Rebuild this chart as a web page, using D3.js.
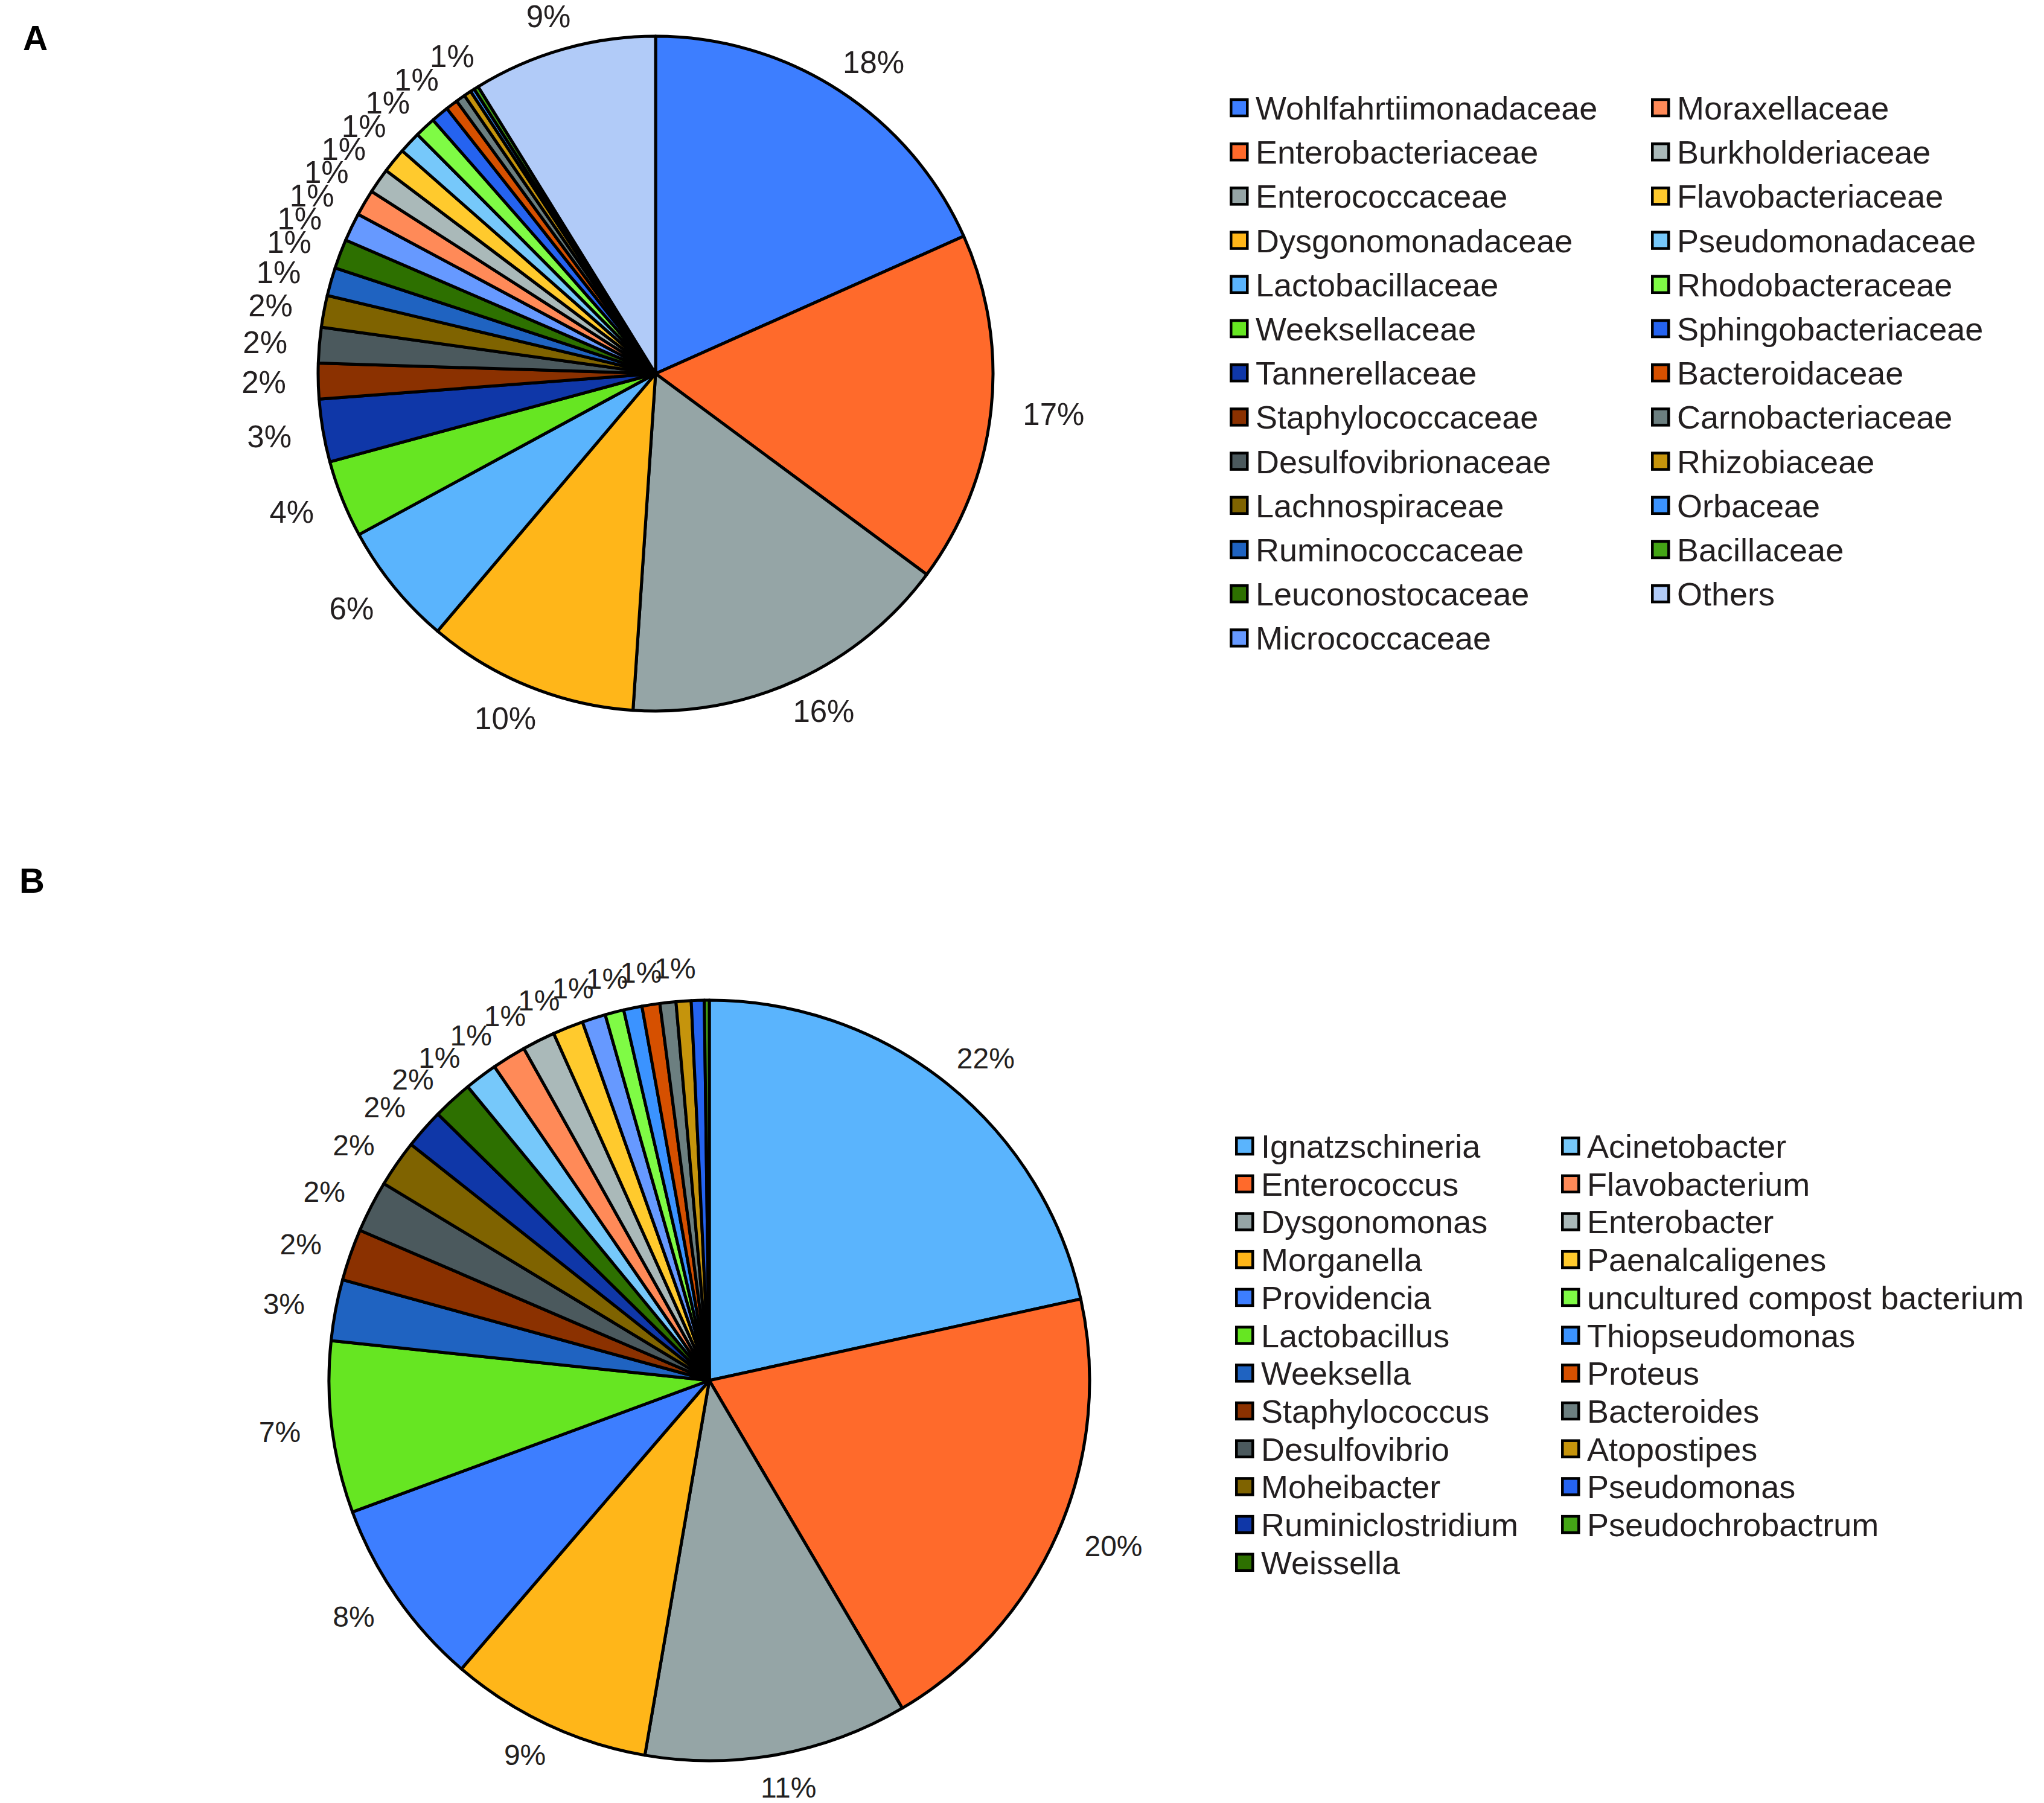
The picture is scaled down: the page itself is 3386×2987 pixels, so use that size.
<!DOCTYPE html>
<html><head><meta charset="utf-8">
<script src="https://cdn.jsdelivr.net/npm/d3@7"></script>
<style>
html,body{margin:0;padding:0;background:#fff;}
svg{display:block;font-family:"Liberation Sans",Arial,Helvetica,sans-serif;}
</style>
</head><body>
<svg id="chart" width="3386" height="2987"></svg>
<script>
// ---------- Panel A : families ----------
const familiesA = ["Wohlfahrtiimonadaceae","Enterobacteriaceae","Enterococcaceae","Dysgonomonadaceae",
  "Lactobacillaceae","Weeksellaceae","Tannerellaceae","Staphylococcaceae","Desulfovibrionaceae",
  "Lachnospiraceae","Ruminococcaceae","Leuconostocaceae","Micrococcaceae","Moraxellaceae",
  "Burkholderiaceae","Flavobacteriaceae","Pseudomonadaceae","Rhodobacteraceae","Sphingobacteriaceae",
  "Bacteroidaceae","Carnobacteriaceae","Rhizobiaceae","Orbaceae","Bacillaceae","Others"];
const valuesA = [18.3,16.8,15.9,10.1,5.9,3.7,3.0,1.7,1.7,1.52,1.35,1.4,1.35,1.25,1.2,1.2,1.05,1.0,0.85,0.58,0.45,0.35,0.2,0.22,8.8];
const colorsA = ["#3d7eff","#ff6a2b","#95a5a6","#ffb619","#5ab4fd","#66e622","#0f37a8","#8b3100","#4b595d",
  "#7f6300","#1f63c1","#2d7000","#6699ff","#ff8a58","#aab9b9","#ffca2d","#76c8fa","#7ffb45","#2563f0",
  "#d65000","#6c7f80","#c5940c","#3b93ff","#44a516","#b1cbf8"];

// ---------- Panel B : genera ----------
const generaB = ["Ignatzschineria","Enterococcus","Dysgonomonas","Morganella","Providencia","Lactobacillus",
  "Weeksella","Staphylococcus","Desulfovibrio","Moheibacter","Ruminiclostridium","Weissella",
  "Acinetobacter","Flavobacterium","Enterobacter","Paenalcaligenes","","uncultured compost bacterium",
  "Thiopseudomonas","Proteus","Bacteroides","Atopostipes","Pseudomonas","Pseudochrobactrum"];
const valuesB = [21.6,20.0,11.2,8.6,8.1,7.3,2.6,2.2,2.2,2.0,1.7,1.7,1.4,1.45,1.4,1.3,1.0,0.8,0.78,0.76,0.68,0.64,0.55,0.21];
const colorsB = ["#5ab4fd","#ff6a2b","#95a5a6","#ffb619","#3d7eff","#66e622","#1f63c1","#8b3100","#4b595d",
  "#7f6300","#0f37a8","#2d7000","#76c8fa","#ff8a58","#aab9b9","#ffca2d","#6699ff","#7ffb45","#3b93ff",
  "#d65000","#6c7f80","#c5940c","#2563f0","#44a516"];

const panelLetters = ["A","B"];

// ---------- layout ----------
const layoutA = {cx:1086, cy:619, r:559, labelFont:51, gap:38, minLabelPct:0.5,
  legend:{cols:[2037,2735], y0:178.5, step:73.2, rows:13, font:54},
  letter:{x:38, y:83, size:57}};
const layoutB = {cx:1175, cy:2287, r:630, labelFont:48, gap:38, minLabelPct:0.7,
  legend:{cols:[2046,2586], y0:1898.6, step:62.7, rows:12, font:54},
  letter:{x:32, y:1479, size:58}};

const svg = d3.select("#chart");
const TEXT = "#231f20";

function measure(txt, size){
  const t = svg.append("text").attr("font-size", size).text(txt);
  const w = t.node().getComputedTextLength();
  t.remove();
  return w;
}

function drawPanel(names, values, colors, L, letter){
  const data = names.map((n,i)=>({name:n, value:values[i], color:colors[i]}));
  const total = d3.sum(values);
  const pie = d3.pie().sort(null).value(d=>d.value).startAngle(0).endAngle(2*Math.PI);
  const arcs = pie(data);
  const arc = d3.arc().innerRadius(0).outerRadius(L.r);
  const g = svg.append("g").attr("transform",`translate(${L.cx},${L.cy})`);
  g.selectAll("path.slice").data(arcs).join("path")
    .attr("class","slice")
    .attr("d", arc)
    .attr("fill", d=>d.data.color)
    .attr("stroke","#000").attr("stroke-width",5).attr("stroke-linejoin","round");

  // labels (outside end, spread where they crowd)
  const fmt = d3.format(".0%");
  const labels = arcs.filter(d=>d.data.value/total*100 >= L.minLabelPct).map(d=>{
    const txt = fmt(d.data.value/total);
    return {txt, ang:(d.startAngle+d.endAngle)/2, w:measure(txt, L.labelFont)};
  });
  const f = L.labelFont;
  const capH = 0.78*f;
  const R = L.r + L.gap + f*0.8;
  for(let it=0; it<800; it++){
    let moved=false;
    for(let i=0;i<labels.length-1;i++){
      const a=labels[i], b=labels[i+1];
      const m=(a.ang+b.ang)/2;
      const w=0.8*(a.w+b.w)/2;
      const c=Math.abs(Math.cos(m)), s=Math.abs(Math.sin(m));
      const need=Math.min(c>1e-3?w/c:1e9, s>1e-3?capH/s:1e9)/R;
      const gap=b.ang-a.ang;
      if(gap<need-1e-6){const dd=(need-gap)/2; a.ang-=dd; b.ang+=dd; moved=true;}
    }
    if(!moved) break;
  }
  const base = L.r + L.gap;
  g.selectAll("text.lbl").data(labels).join("text")
    .attr("class","lbl")
    .attr("x", d=>Math.sin(d.ang)*(base + d.w/2 + 0.3*f))
    .attr("y", d=>-Math.cos(d.ang)*(base + 0.36*f))
    .attr("dy","0.36em")
    .attr("text-anchor","middle")
    .attr("font-size", f)
    .attr("fill", TEXT)
    .text(d=>d.txt);

  // legend
  const entries = data.filter(d=>d.name !== "");
  const lg = svg.append("g");
  const item = lg.selectAll("g.item").data(entries).join("g")
    .attr("class","item")
    .attr("transform",(d,i)=>{
      const col = Math.floor(i / L.legend.rows), row = i % L.legend.rows;
      return `translate(${L.legend.cols[col]},${L.legend.y0 + row*L.legend.step})`;
    });
  item.append("rect").attr("x",2.25).attr("y",-13.5).attr("width",27).attr("height",27)
    .attr("fill",d=>d.color).attr("stroke","#000").attr("stroke-width",4.5);
  item.append("text").attr("x",43).attr("dy","0.36em")
    .attr("font-size",L.legend.font).attr("fill",TEXT).text(d=>d.name);

  svg.append("text").attr("x",L.letter.x).attr("y",L.letter.y)
    .attr("font-size",L.letter.size).attr("font-weight","bold").attr("fill","#000").text(letter);
}

drawPanel(familiesA, valuesA, colorsA, layoutA, panelLetters[0]);
drawPanel(generaB, valuesB, colorsB, layoutB, panelLetters[1]);
</script>
</body></html>
